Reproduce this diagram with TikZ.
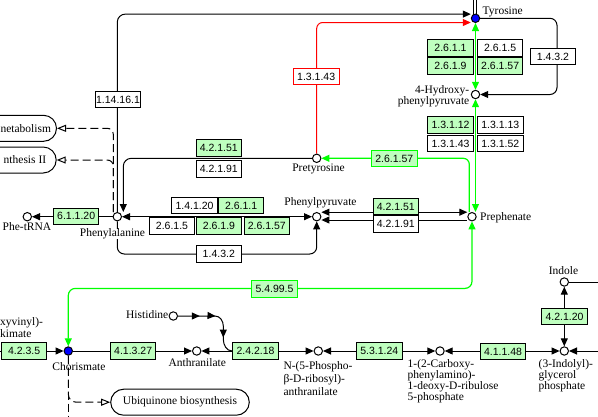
\documentclass[tikz,border=0pt]{standalone}
\usepackage{fontspec}
\setmainfont{Liberation Serif}
\newfontfamily\ecfamilyfnt{Liberation Sans}
\usetikzlibrary{arrows.meta,decorations.markings}
\definecolor{kgreen}{RGB}{0,255,0}
\definecolor{kgfill}{RGB}{191,255,191}
\definecolor{kred}{RGB}{255,0,0}
\definecolor{kblue}{RGB}{0,0,255}
\newcommand\cpdfnt{\fontsize{11.5}{11}\selectfont}
\newcommand\ecfnt{\ecfamilyfnt\fontsize{10.5}{12}\selectfont}
\pgfdeclarelayer{background}
\pgfsetlayers{background,main}
\tikzset{
  >={Triangle[length=8pt,width=7pt]},
  cpd/.style={circle, draw, fill=white, line width=1pt, inner sep=0pt, minimum size=8.4pt},
  cpdb/.style={cpd, fill=kblue},
  lbl/.style={font=\cpdfnt, inner sep=0pt},
  ec/.style={rectangle, draw, line width=1pt, inner sep=0pt, minimum width=45.5pt, minimum height=16.5pt, font=\ecfnt, fill=white},
  ecg/.style={ec, fill=kgfill},
  ecgg/.style={ec, fill=kgfill, draw=kgreen},
  ecr/.style={ec, draw=kred},
  conn/.style={line width=1pt},
  gline/.style={line width=1.2pt, draw=kgreen},
  rline/.style={conn, draw=kred},
  mapline/.style={conn, dash pattern=on 8pt off 4pt},
  maptip/.style={-{Triangle[open,length=9pt,width=7pt]}},
  pill/.style={draw, fill=white, rounded corners=13pt, line width=1pt, font=\cpdfnt, inner ysep=0pt, minimum height=26pt}
}
\begin{document}
\begin{tikzpicture}[x=1pt,y=-1pt]
\useasboundingbox (0,0) rectangle (598,416);
\clip (0,0) rectangle (598,416);
% compounds
\node[cpdb] (tyr) at (475.5,18.3) {};
\node[cpd] (hpp) at (475.5,94.5) {};
\node[cpd] (pre) at (472,216.7) {};
\node[cpd] (prt) at (316.7,158.3) {};
\node[cpd] (ppy) at (316.7,216.7) {};
\node[cpd] (phe) at (117.3,216.7) {};
\node[cpd] (ptrna) at (27.3,216.7) {};
\node[cpdb] (chor) at (68.3,351) {};
\node[cpd] (anth) at (196.7,351) {};
\node[cpd] (his) at (173.3,316) {};
\node[cpd] (n5p) at (318.3,351) {};
\node[cpd] (cdrp) at (440,351) {};
\node[cpd] (igp) at (564.3,351) {};
\node[cpd] (ind) at (564.3,282) {};
% labels
\node[lbl, anchor=base west] (tyrL) at (482.5,14) {Tyrosine};
\node[lbl, anchor=north east, align=right] (hppL) at (469.5,85.5) {4-Hydroxy-\\phenylpyruvate};
\node[lbl, anchor=base] (prtL) at (318.5,171) {Pretyrosine};
\node[lbl, anchor=base] (ppyL) at (320.5,205.5) {Phenylpyruvate};
\node[lbl, anchor=base west] (preL) at (480,220.5) {Prephenate};
\node[lbl, anchor=base, fill=white] (pheL) at (112.5,236.5) {Phenylalanine};
\node[lbl, anchor=base] (ptrnaL) at (27,230.5) {Phe-tRNA};
\node[lbl, anchor=base] (chorL) at (79,370.7) {Chorismate};
\node[lbl, anchor=base] (anthL) at (197.3,366) {Anthranilate};
\node[lbl, anchor=base east] (hisL) at (168.5,318.5) {Histidine};
\node[lbl, anchor=north west, align=left, font=\fontsize{11.5}{13}\selectfont] (n5pL) at (283.3,360.9) {N-(5-Phospho-\\β-D-ribosyl)-\\anthranilate};
\node[lbl, anchor=north west, align=left] (cdrpL) at (407.5,359.5) {1-(2-Carboxy-\\phenylamino)-\\1-deoxy-D-ribulose\\5-phosphate};
\node[lbl, anchor=north west, align=left] (igpL) at (538.5,359.5) {(3-Indolyl)-\\glycerol\\phosphate};
\node[lbl, anchor=base] (indL) at (563.5,274) {Indole};
\node[lbl, anchor=north west, align=left, font=\fontsize{11.5}{12.5}\selectfont] (cvsL) at (0,317) {xyvinyl)-\\kimate};
% maps
\node[pill, anchor=east, inner xsep=5.5pt] (map1) at (57,128.3) {\hspace*{70pt}netabolism};
\node[pill, anchor=east, inner xsep=10pt] (map2) at (56.7,160) {\hspace*{70pt}nthesis II};
\node[pill, minimum width=138.6pt] (ubi) at (180,402.2) {Ubiquinone biosynthesis};
% enzymes
\node[ec] (e1141161) at (118,99.7) {1.14.16.1};
\node[ecr, minimum width=46.3pt] (e13143r) at (316.2,76.7) {1.3.1.43};
\node[ec] (e1432a) at (553,56.7) {1.4.3.2};
\node[ecg, minimum height=17pt] (e2611a) at (450.5,47.5) {2.6.1.1};
\node[ec, minimum height=17pt] (e2615a) at (500.2,47.5) {2.6.1.5};
\node[ecg, minimum height=17pt] (e2619a) at (450.5,66) {2.6.1.9};
\node[ecg, minimum height=17pt] (e26157a) at (500.2,66) {2.6.1.57};
\node[ecg] (e13112) at (450.5,125) {1.3.1.12};
\node[ec] (e13113) at (500.3,125) {1.3.1.13};
\node[ec] (e13143) at (450.5,143.6) {1.3.1.43};
\node[ec] (e13152) at (500.3,143.6) {1.3.1.52};
\node[ecgg] (e26157b) at (394.3,158.7) {2.6.1.57};
\node[ecg] (e42151a) at (218.8,148) {4.2.1.51};
\node[ec] (e42191a) at (218.8,168.8) {4.2.1.91};
\node[ec] (e14120) at (194.5,205.5) {1.4.1.20};
\node[ecg] (e2611b) at (241.2,205.5) {2.6.1.1};
\node[ec] (e2615b) at (172,226.2) {2.6.1.5};
\node[ecg] (e2619b) at (219,226.2) {2.6.1.9};
\node[ecg] (e26157c) at (266.8,226.2) {2.6.1.57};
\node[ec] (e1432b) at (218.8,254.2) {1.4.3.2};
\node[ecg] (e42151b) at (395.8,206.7) {4.2.1.51};
\node[ec] (e42191b) at (395.8,224) {4.2.1.91};
\node[ecg] (e61120) at (76.2,216.3) {6.1.1.20};
\node[ecgg] (e54995) at (274.5,289) {5.4.99.5};
\node[ecg] (e4235) at (24.2,351) {4.2.3.5};
\node[ecg] (e41327) at (133.2,351) {4.1.3.27};
\node[ecg] (e242218) at (255.5,351) {2.4.2.18};
\node[ecg] (e53124) at (379.3,351) {5.3.1.24};
\node[ecg] (e41148) at (503,351.5) {4.1.1.48};
\node[ecg] (e42120) at (564.5,316.7) {4.2.1.20};
% free ends
\coordinate (lin) at (0,351);
\coordinate (rin) at (598,351);
\coordinate (indOut) at (598,282);
\coordinate (tyrUp1) at (473,0);
\coordinate (tyrUp2) at (476.8,0);
\coordinate (chorDown) at (68.3,416);
\begin{pgfonlayer}{background}
\draw[conn, ->, rounded corners=8pt] (phe.north) |- ([yshift=4.2pt]tyr.west);
\draw[rline, ->, rounded corners=6pt] (prt.north) |- ([yshift=-4.2pt]tyr.west);
\draw[conn, ->, rounded corners=7pt] (tyr.east) -- ++(76.8,0) |- (hpp.east);
\draw[gline, <->] (hpp.north) -- (tyr.south);
\draw[gline, <->] (hpp.south) -- (hpp.south |- pre.north);
\draw[gline, ->, rounded corners=6pt] ([xshift=-2.7pt]pre.north) |- (prt.east);
\draw[conn, ->, rounded corners=8pt] (prt.west) -| ([xshift=6pt]phe.north);
\draw[conn, <->] (phe.east) -- (ppy.west);
\draw[conn, ->, rounded corners=7pt] (phe.south) -- ++(0,32.6) -| (ppy.south);
\draw[conn, <->] ([yshift=4.5pt]ppy.east) -- ([yshift=4.5pt]pre.west);
\draw[conn, <-] ([yshift=-3.3pt]ppy.east) -- ([yshift=-3.3pt]pre.west);
\draw[conn, ->] (phe.west) -- (ptrna.east);
\draw[mapline, maptip, rounded corners=6pt] ([xshift=-4pt]phe.north) |- (map1.east);
\draw[mapline, maptip, rounded corners=6pt] ([xshift=-4pt]phe.north) |- (map2.east);
\draw[gline, <->, rounded corners=7pt] (pre.south) -- ++(0,67) -| (chor.north);
\draw[conn, ->] (lin) -- (chor.west);
\draw[conn, ->] (chor.east) -- (anth.west);
\draw[conn, <->] (anth.east) -- (n5p.west);
\draw[conn, <->] (n5p.east) -- (cdrp.west);
\draw[conn, <->] (cdrp.east) -- (igp.west);
\draw[conn, ->] (rin) -- (igp.east);
\draw[conn, <->] (igp.north) -- (ind.south);
\draw[conn] (ind.east) -- (indOut);
\draw[conn] (tyrUp1) -- (tyrUp1 |- tyr.center);
\draw[conn] (tyrUp2) -- (tyrUp2 |- tyr.center);
\draw[mapline] (chor.south) -- (chorDown);
\draw[mapline, maptip, rounded corners=8pt] (chor.south) |- (ubi.west);
\draw[conn, postaction={decorate, decoration={markings,
    mark=at position 21.8pt with {\arrow{>}},
    mark=at position 37.5pt with {\arrow{>}},
    mark=at position 63pt with {\arrow{>}}}}]
  (his.east) -- (215,316) to[out=0,in=90] (223.3,326) -- (223.3,339) to[out=-90,in=180] (e242218.west);
\end{pgfonlayer}
\end{tikzpicture}
\end{document}
